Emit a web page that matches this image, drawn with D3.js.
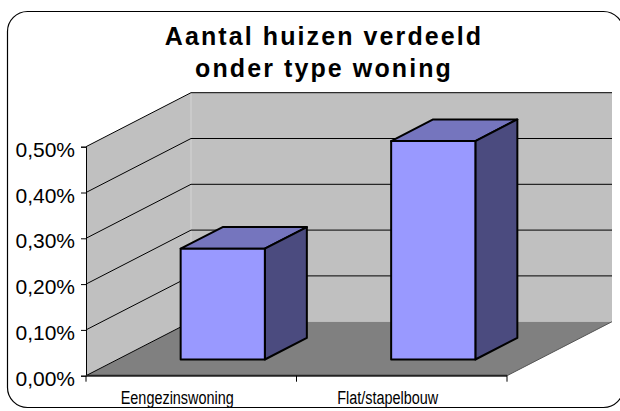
<!DOCTYPE html>
<html><head><meta charset="utf-8">
<script src="https://cdn.jsdelivr.net/npm/d3@7"></script>
<style>body{margin:0;background:#fff}svg{display:block}text{font-family:Arial,"Liberation Sans",sans-serif}</style>
</head><body><svg id="c" width="620" height="411"></svg>
<script>
const titleLines = ["Aantal huizen verdeeld", "onder type woning"];
const categories = ["Eengezinswoning", "Flat/stapelbouw"];
const values = [0.00242, 0.00477];
const yTicks = [0, 0.001, 0.002, 0.003, 0.004, 0.005];

const svg = d3.select("#c");
// chart area border
svg.append("rect").attr("x",7.5).attr("y",11.5).attr("width",616).attr("height",396)
  .attr("rx",20).attr("fill","#fff").attr("stroke","#000").attr("stroke-width",1.2);

// title
const title = svg.append("text").attr("font-weight","bold").attr("font-size",25)
  .attr("letter-spacing",2.1).attr("text-anchor","middle").attr("fill","#000");
titleLines.forEach((t,i)=>title.append("tspan").attr("x",324).attr("y",45+i*32).text(t));

// 3D geometry
const DX = 105, DY = 54;
const x = d3.scaleBand().domain(categories).range([86,507]).paddingInner(0.6).paddingOuter(0.3);
const y = d3.scaleLinear().domain([0,0.005]).range([375.7,146.7]);
const P = (px,py,z)=>[px+z*DX, py-z*DY];
const poly = pts => "M"+pts.map(p=>p.join(",")).join("L")+"Z";
const xL = x.range()[0], xR = x.range()[1];
const y0 = y(0), yT = y(0.005);

// walls
svg.append("path").attr("d",poly([P(xL,y0,0),P(xL,y0,1),P(xL,yT,1),P(xL,yT,0)])).attr("fill","#c0c0c0");
svg.append("path").attr("d",poly([P(xL,y0,1),P(xR,y0,1),P(xR,yT,1),P(xL,yT,1)])).attr("fill","#c0c0c0");
svg.append("line").attr("x1",xL+DX).attr("x2",xL+DX).attr("y1",yT-DY).attr("y2",y0-DY).attr("stroke","#d4d4d4").attr("stroke-width",1);
// floor
svg.append("path").attr("d",poly([P(xL,y0,0),P(xR,y0,0),P(xR,y0,1),P(xL,y0,1)])).attr("fill","#808080");
svg.append("line").attr("x1",xR).attr("y1",y0).attr("x2",xR+DX).attr("y2",y0-DY).attr("stroke","#555").attr("stroke-width",1);

// gridlines
yTicks.forEach(v=>{
  const a=P(xL,y(v),0), b=P(xL,y(v),1), c=P(xR,y(v),1);
  svg.append("line").attr("x1",a[0]).attr("y1",a[1]).attr("x2",b[0]).attr("y2",b[1]).attr("stroke","#000").attr("stroke-width",1);
  if(v>0) svg.append("line").attr("x1",b[0]).attr("y1",b[1]).attr("x2",c[0]).attr("y2",c[1]).attr("stroke","#000").attr("stroke-width",1);
});

// value axis
const yAxis = d3.axisLeft(y).tickValues(yTicks).tickSize(5).tickPadding(6)
  .tickFormat(d=>d3.format(".2f")(d*100).replace(".",",")+"%");
const gy = svg.append("g").attr("transform",`translate(${xL},0)`).call(yAxis);
gy.select(".domain").attr("stroke","#000").attr("stroke-width",1);
gy.selectAll(".tick line").attr("stroke","#000");
gy.selectAll(".tick text").attr("font-size",21).attr("font-family","Arial, 'Liberation Sans', sans-serif")
  .attr("fill","#000").attr("dy",null).attr("y",9.5);

// category axis
const xAxis = d3.axisBottom(x).tickSize(0).tickPadding(0);
const gx = svg.append("g").attr("transform",`translate(0,${y0})`).call(xAxis);
gx.select(".domain").remove();
svg.append("line").attr("x1",xL).attr("x2",xR).attr("y1",y0).attr("y2",y0).attr("stroke","#222").attr("stroke-width",2);
const step = x.step();
[xL, xL+step, xR].forEach(t=>{
  svg.append("line").attr("x1",t).attr("x2",t).attr("y1",y0).attr("y2",y0+6).attr("stroke","#000").attr("stroke-width",1);
});
gx.selectAll(".tick text").each(function(d){
  const cx = x(d)+x.bandwidth()/2 - 14;
  d3.select(this).attr("font-size",19).attr("font-family","Arial, 'Liberation Sans', sans-serif")
    .attr("fill","#000").attr("y",0).attr("dy",null).attr("x",0)
    .attr("transform",`translate(${cx},28.7) scale(0.76,1)`).attr("text-anchor","middle");
});
gx.selectAll(".tick").attr("transform",null);

// bars
const z0 = 0.3, z1 = 0.7;
categories.forEach((c,i)=>{
  const bx0 = x(c), bx1 = x(c)+x.bandwidth(), by0 = y(0), by1 = y(values[i]);
  const g = svg.append("g").attr("stroke","#000").attr("stroke-width",2).attr("stroke-linejoin","round");
  g.append("path").attr("d",poly([P(bx0,by1,z0),P(bx1,by1,z0),P(bx1,by1,z1),P(bx0,by1,z1)])).attr("fill","#7575be");
  g.append("path").attr("d",poly([P(bx1,by0,z0),P(bx1,by0,z1),P(bx1,by1,z1),P(bx1,by1,z0)])).attr("fill","#4b4b7f");
  g.append("path").attr("d",poly([P(bx0,by0,z0),P(bx1,by0,z0),P(bx1,by1,z0),P(bx0,by1,z0)])).attr("fill","#9999ff");
});
</script></body></html>
